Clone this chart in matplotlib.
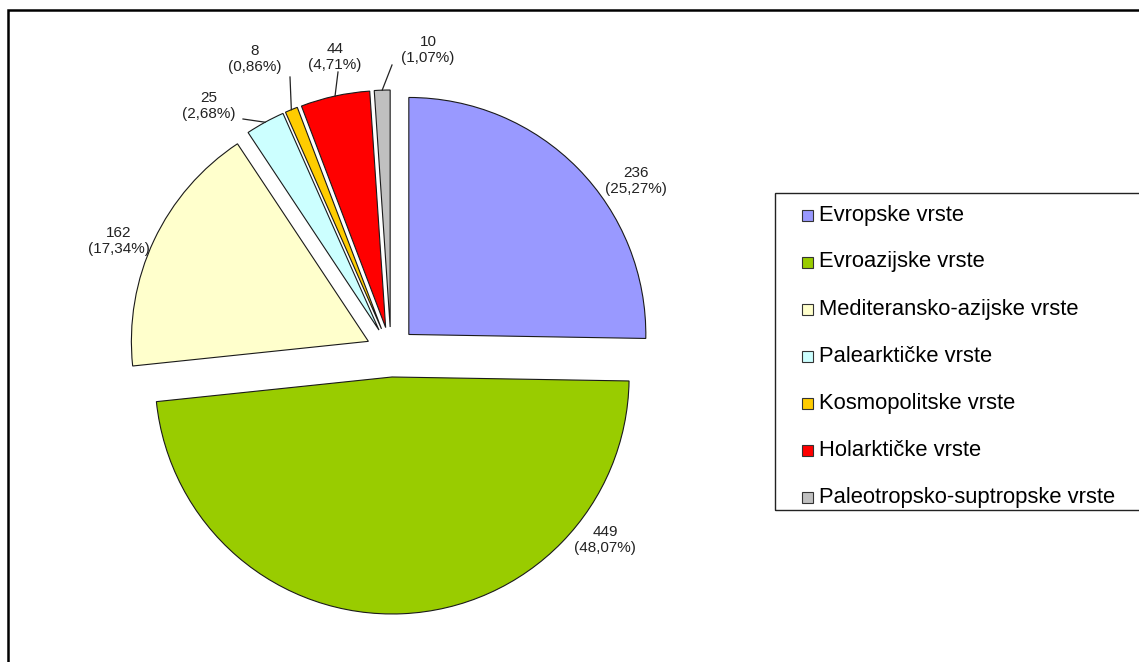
import math
import matplotlib
matplotlib.use('Agg')
import matplotlib.pyplot as plt
from matplotlib.patches import Rectangle

plt.rcParams['font.family'] = ['Liberation Sans', 'DejaVu Sans']

# podaci
categories = ['Evropske vrste', 'Evroazijske vrste', 'Mediteransko-azijske vrste',
              'Palearktičke vrste', 'Kosmopolitske vrste', 'Holarktičke vrste',
              'Paleotropsko-suptropske vrste']
counts = [236, 449, 162, 25, 8, 44, 10]
percents = ['25,27%', '48,07%', '17,34%', '2,68%', '0,86%', '4,71%', '1,07%']
colors = ['#9999FF', '#99CC00', '#FFFFCC', '#CCFFFF', '#FFCC00', '#FF0000', '#C0C0C0']

W, H = 1139, 662
fig = plt.figure(figsize=(W / 100, H / 100), dpi=100)
ax = fig.add_axes([0, 0, 1, 1])

# koordinate u pikselima (y od dna)
cx, cy, R = 391, H - 352, 237
wedges, _ = ax.pie(counts, colors=colors, startangle=90, counterclock=False,
                   explode=[25] * len(counts), radius=R, center=(cx, cy),
                   wedgeprops=dict(edgecolor='#1a1a1a', linewidth=0.8))

# pozicije oznaka (piksel, y od vrha)
label_pos = [(636, 181), (605, 540), (119, 241), (209, 106), (255, 59), (335, 57), (428, 50)]
leader_start = {3: (243, 119), 4: (290, 77), 5: (338, 72), 6: (392, 65)}

for i, (w, n, p) in enumerate(zip(wedges, counts, percents)):
    x, y = label_pos[i]
    ax.text(x, H - y, f'{n}\n({p})', ha='center', va='center', fontsize=11,
            color='#222222', linespacing=1.2)
    if i in leader_start:
        t = math.radians((w.theta1 + w.theta2) / 2)
        ex = w.center[0] + w.r * math.cos(t)
        ey = w.center[1] + w.r * math.sin(t)
        sx, sy = leader_start[i]
        ax.plot([sx, ex], [H - sy, ey], color='#222222', lw=0.9)

# legenda
ax.add_patch(Rectangle((775, H - 510), 380, 317, fill=False, edgecolor='#222222', lw=1.0))
for i, (c, lab) in enumerate(zip(colors, categories)):
    yy = H - (215 + 47 * i)
    ax.add_patch(Rectangle((802, yy - 5.5), 11, 11, facecolor=c, edgecolor='#333333', lw=0.8))
    ax.text(819, yy, lab, ha='left', va='center', fontsize=15.8, color='black')

# okvir
ax.add_patch(Rectangle((8, -20), 1300, H - 10 + 20, fill=False, edgecolor='black', lw=1.8))

ax.set_xlim(0, W)
ax.set_ylim(0, H)
ax.set_aspect('auto')
ax.axis('off')

fig.savefig('out.png', dpi=100)
